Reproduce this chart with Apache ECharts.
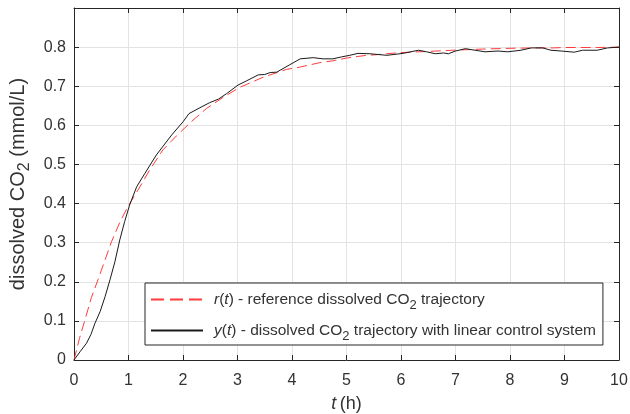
<!DOCTYPE html>
<html>
<head>
<meta charset="utf-8">
<script src="https://cdn.jsdelivr.net/npm/echarts@6/dist/echarts.min.js"></script>
<style>html,body{margin:0;padding:0;background:#fff;}#c{width:630px;height:414px;}</style>
</head>
<body>
<div id="c"></div>
<script>
// reference trajectory r(t)
var rT = [0, 0.1, 0.2, 0.32, 0.44, 0.57, 0.69, 0.84, 1.0, 1.21, 1.39, 1.63, 1.88, 2.15, 2.43, 2.73, 3.04, 3.47, 3.9, 4.15, 4.5, 4.75, 5.0, 5.36, 5.5, 5.98, 6.5, 6.95, 7.5, 8.0, 8.5, 8.8, 9.0, 9.6, 10];
var rV = [0, 0.055, 0.102, 0.16, 0.205, 0.256, 0.303, 0.352, 0.395, 0.443, 0.486, 0.537, 0.573, 0.609, 0.643, 0.671, 0.697, 0.723, 0.743, 0.749, 0.760, 0.765, 0.772, 0.779, 0.780, 0.786, 0.789, 0.792, 0.795, 0.797, 0.798, 0.798, 0.799, 0.799, 0.8];
// measured trajectory y(t)
var yT = [0, 0.11, 0.23, 0.31, 0.385, 0.48, 0.57, 0.66, 0.75, 0.84, 0.93, 1.02, 1.15, 1.3, 1.51, 1.79, 2.0, 2.11, 2.31, 2.49, 2.65, 2.8, 3.01, 3.17, 3.38, 3.5, 3.6, 3.72, 3.96, 4.15, 4.39, 4.57, 4.75, 4.91, 5.06, 5.21, 5.43, 5.74, 6.04, 6.32, 6.47, 6.63, 6.78, 6.87, 7.0, 7.18, 7.36, 7.54, 7.78, 7.96, 8.2, 8.39, 8.6, 8.75, 8.94, 9.18, 9.33, 9.6, 9.79, 10];
var yV = [0, 0.021, 0.043, 0.065, 0.094, 0.124, 0.162, 0.205, 0.251, 0.307, 0.354, 0.396, 0.443, 0.477, 0.524, 0.575, 0.609, 0.63, 0.645, 0.658, 0.667, 0.681, 0.703, 0.714, 0.729, 0.730, 0.735, 0.736, 0.755, 0.770, 0.773, 0.770, 0.770, 0.775, 0.779, 0.784, 0.783, 0.779, 0.784, 0.792, 0.788, 0.783, 0.785, 0.783, 0.790, 0.796, 0.792, 0.788, 0.790, 0.788, 0.792, 0.798, 0.798, 0.792, 0.790, 0.787, 0.792, 0.792, 0.798, 0.8];
var xTicks = [0, 1, 2, 3, 4, 5, 6, 7, 8, 9, 10];
var yTicks = [0, 0.1, 0.2, 0.3, 0.4, 0.5, 0.6, 0.7, 0.8];

function zip(a, b) { return a.map(function (v, i) { return [v, b[i]]; }); }

var FONT = 'Liberation Sans, Arial, Helvetica, sans-serif';
var AX = '#262626';
var TXT = '#333333';
var GRID = '#e3e3e3';
function makeRich(fs, sfs, lh, drop) {
  return {
    n: { fontSize: fs, fontFamily: FONT, color: TXT, lineHeight: lh },
    i: { fontSize: fs, fontFamily: FONT, color: TXT, fontStyle: 'italic', lineHeight: lh },
    s: { fontSize: sfs, fontFamily: FONT, color: TXT, lineHeight: lh - 2 * drop, padding: [2 * drop, 0, 0, 0] }
  };
}
var yNameRich = makeRich(20, 16, 24, 6);
var xNameRich = makeRich(18, 15, 22, 6);
var legRich = makeRich(15.5, 13, 18, 6);

var chart = echarts.init(document.getElementById('c'), null, { renderer: 'canvas' });
var baseX = { type: 'value', min: 0, max: 10, interval: 1 };
var baseY = { type: 'value', min: 0, max: 0.9, interval: 0.1 };
chart.setOption({
  animation: false,
  backgroundColor: '#fff',
  grid: { left: 74, right: 11, top: 8, bottom: 54, containLabel: false, outerBoundsMode: 'none' },
  xAxis: [
    Object.assign({}, baseX, {
      position: 'bottom',
      axisLine: { show: true, onZero: false, lineStyle: { color: AX, width: 1 } },
      axisTick: { show: true, inside: true, length: 5, lineStyle: { color: AX } },
      axisLabel: { show: true, margin: 13, fontSize: 16, fontFamily: FONT, color: TXT,
        formatter: function (v) { return xTicks.indexOf(v) >= 0 ? String(v) : ''; } },
      splitLine: { show: true, lineStyle: { color: GRID, width: 1 } },
      name: '{i|t} {n|(h)}', nameLocation: 'middle', nameGap: 33,
      nameTextStyle: { rich: xNameRich }
    }),
    Object.assign({}, baseX, {
      position: 'top',
      axisLine: { show: true, onZero: false, lineStyle: { color: AX, width: 1 } },
      axisTick: { show: true, inside: true, length: 5, lineStyle: { color: AX } },
      axisLabel: { show: false }, splitLine: { show: false }
    })
  ],
  yAxis: [
    Object.assign({}, baseY, {
      position: 'left',
      axisLine: { show: true, onZero: false, lineStyle: { color: AX, width: 1 } },
      axisTick: { show: true, inside: true, length: 5, lineStyle: { color: AX } },
      axisLabel: { show: true, margin: 8, fontSize: 16, fontFamily: FONT, color: TXT,
        formatter: function (v) {
          var r = Math.round(v * 10) / 10;
          return yTicks.indexOf(r) >= 0 ? String(r) : '';
        } },
      splitLine: { show: true, lineStyle: { color: GRID, width: 1 } },
      name: '{n|dissolved CO}{s|2}{n| (mmol/L)}', nameLocation: 'middle', nameGap: 38,
      nameRotate: 90, nameTextStyle: { rich: yNameRich }
    }),
    Object.assign({}, baseY, {
      position: 'right',
      axisLine: { show: true, onZero: false, lineStyle: { color: AX, width: 1 } },
      axisTick: { show: true, inside: true, length: 5, lineStyle: { color: AX } },
      axisLabel: { show: false }, splitLine: { show: false }
    })
  ],
  legend: {
    orient: 'vertical', left: 145, top: 283,
    backgroundColor: '#fff', borderColor: AX, borderWidth: 1, borderRadius: 0,
    padding: [4, 7, 2, 5], itemGap: 6, itemWidth: 52, itemHeight: 14,
    itemStyle: { color: 'rgba(0,0,0,0)', borderColor: 'rgba(0,0,0,0)', borderWidth: 0, opacity: 0 },
    data: [
      { name: 'r', lineStyle: { type: [13, 6] } },
      { name: 'y' }
    ],
    formatter: function (n) {
      if (n === 'r') return '{i|r}{n|(}{i|t}{n|) - reference dissolved CO}{s|2}{n| trajectory}';
      return '{i|y}{n|(}{i|t}{n|) - dissolved CO}{s|2}{n| trajectory with linear control system}';
    },
    textStyle: { rich: legRich, padding: [0, 0, 0, 6] }
  },
  series: [
    { name: 'r', type: 'line', data: zip(rT, rV), showSymbol: false, symbol: 'none',
      lineStyle: { color: '#ff3b3b', width: 1, type: [10, 5] }, itemStyle: { color: '#ff3b3b' }, z: 3 },
    { name: 'y', type: 'line', data: zip(yT, yV), showSymbol: false, symbol: 'none',
      lineStyle: { color: '#1a1a1a', width: 1 }, itemStyle: { color: '#1a1a1a' }, z: 4 }
  ]
});
</script>
</body>
</html>
